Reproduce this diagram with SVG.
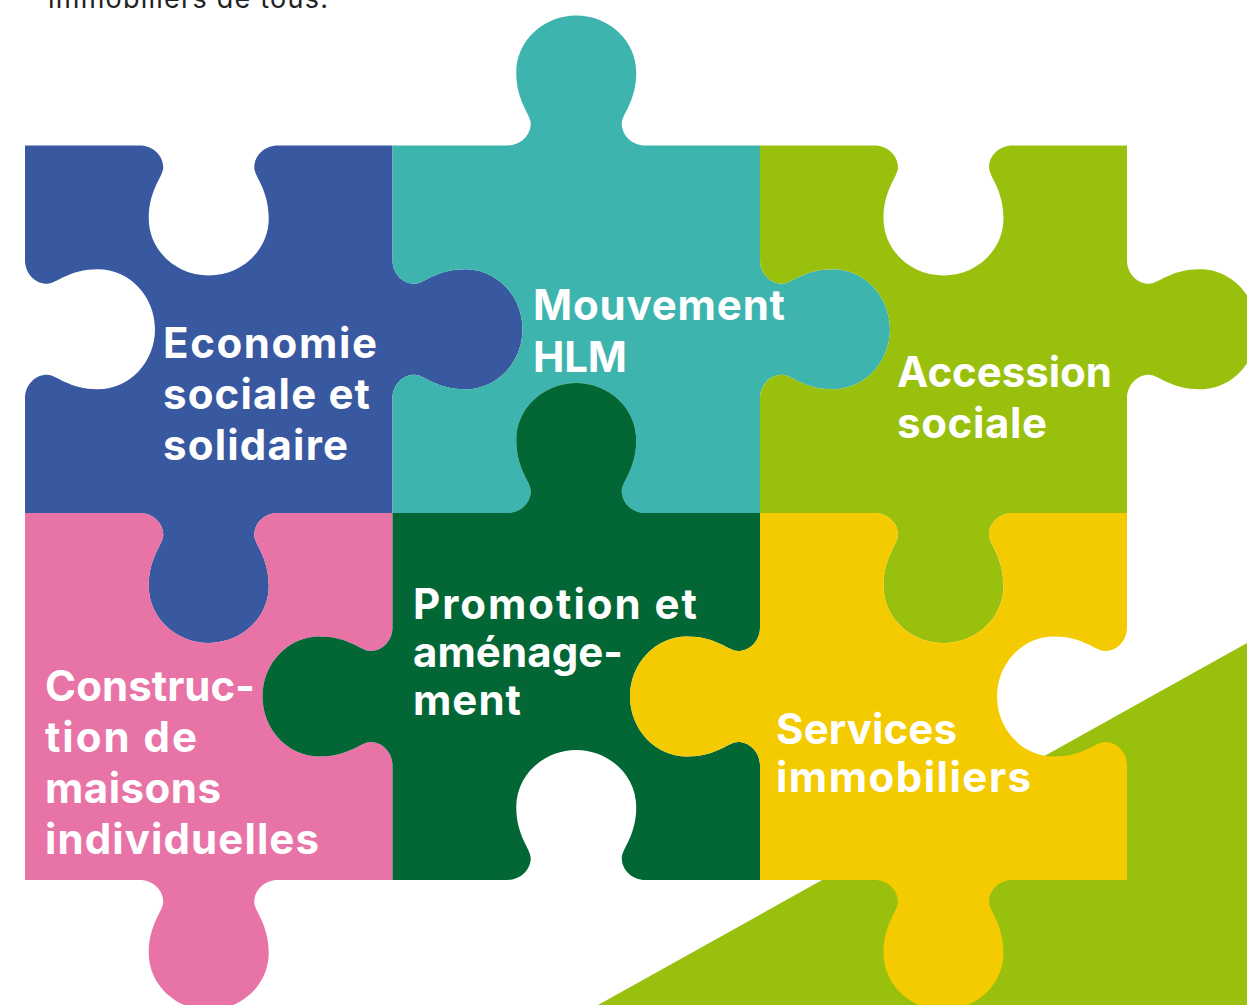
<svg xmlns="http://www.w3.org/2000/svg" width="1247" height="1005" viewBox="0 0 1247 1005">
<style>
text{font-family:"Inter","Liberation Sans",sans-serif}
.l{font-size:42px;font-weight:700;fill:#fff}
.t{font-size:27px;font-weight:400;fill:#222}
</style>
<rect width="1247" height="1005" fill="#fff"/>
<text class="t" x="48" y="8" textLength="280">immobiliers de tous.</text>
<polygon points="1247,643 598,1005 1247,1005" fill="#99c00d"/>
<g id="blue">
<path fill="#38589f" d="M25,145.5H139.75c13,0 23.5,10 23.5,22c0,9 -14.5,22 -14.5,51c0,31.5 27,57 60,57c33,0 60,-25.5 60,-57c0,-29 -14.5,-42 -14.5,-51c0,-12 10.5,-22 23.5,-22H392.5V260.25c0,13 10,23.5 22,23.5c9,0 22,-14.5 51,-14.5c31.5,0 57,27 57,60c0,33 -25.5,60 -57,60c-29,0 -42,-14.5 -51,-14.5c-12,0 -22,10.5 -22,23.5V513H277.75c-13,0 -23.5,10 -23.5,22c0,9 14.5,22 14.5,51c0,31.5 -27,57 -60,57c-33,0 -60,-25.5 -60,-57c0,-29 14.5,-42 14.5,-51c0,-12 -10.5,-22 -23.5,-22H25V398.25c0,-13 10,-23.5 22,-23.5c9,0 22,14.5 51,14.5c31.5,0 57,-27 57,-60c0,-33 -25.5,-60 -57,-60c-29,0 -42,14.5 -51,14.5c-12,0 -22,-10.5 -22,-23.5Z"/>
<text class="l" x="163" y="358" textLength="214">Economie</text>
<text class="l" x="163" y="409" textLength="207">sociale et</text>
<text class="l" x="163" y="460" textLength="185">solidaire</text>
</g>
<g id="teal">
<path fill="#3eb4ae" d="M392.5,145.5H507.25c13,0 23.5,-10 23.5,-22c0,-9 -14.5,-22 -14.5,-51c0,-31.5 27,-57 60,-57c33,0 60,25.5 60,57c0,29 -14.5,42 -14.5,51c0,12 10.5,22 23.5,22H760V260.25c0,13 10,23.5 22,23.5c9,0 22,-14.5 51,-14.5c31.5,0 57,27 57,60c0,33 -25.5,60 -57,60c-29,0 -42,-14.5 -51,-14.5c-12,0 -22,10.5 -22,23.5V513H645.25c-13,0 -23.5,-10 -23.5,-22c0,-9 14.5,-22 14.5,-51c0,-31.5 -27,-57 -60,-57c-33,0 -60,25.5 -60,57c0,29 14.5,42 14.5,51c0,12 -10.5,22 -23.5,22H392.5V398.25c0,-13 10,-23.5 22,-23.5c9,0 22,14.5 51,14.5c31.5,0 57,-27 57,-60c0,-33 -25.5,-60 -57,-60c-29,0 -42,14.5 -51,14.5c-12,0 -22,-10.5 -22,-23.5Z"/>
<text class="l" x="533" y="320" textLength="252">Mouvement</text>
<text class="l" x="533" y="372" textLength="94">HLM</text>
</g>
<g id="lime">
<path fill="#99c00d" d="M760,145.5H874.5c13,0 23.5,10 23.5,22c0,9 -14.5,22 -14.5,51c0,31.5 27,57 60,57c33,0 60,-25.5 60,-57c0,-29 -14.5,-42 -14.5,-51c0,-12 10.5,-22 23.5,-22H1127V260.25c0,13 10,23.5 22,23.5c9,0 22,-14.5 51,-14.5c31.5,0 57,27 57,60c0,33 -25.5,60 -57,60c-29,0 -42,-14.5 -51,-14.5c-12,0 -22,10.5 -22,23.5V513H1012.5c-13,0 -23.5,10 -23.5,22c0,9 14.5,22 14.5,51c0,31.5 -27,57 -60,57c-33,0 -60,-25.5 -60,-57c0,-29 14.5,-42 14.5,-51c0,-12 -10.5,-22 -23.5,-22H760V398.25c0,-13 10,-23.5 22,-23.5c9,0 22,14.5 51,14.5c31.5,0 57,-27 57,-60c0,-33 -25.5,-60 -57,-60c-29,0 -42,14.5 -51,14.5c-12,0 -22,-10.5 -22,-23.5Z"/>
<text class="l" x="897" y="387" textLength="215">Accession</text>
<text class="l" x="897" y="438" textLength="150">sociale</text>
</g>
<g id="pink">
<path fill="#e874a7" d="M25,513H139.75c13,0 23.5,10 23.5,22c0,9 -14.5,22 -14.5,51c0,31.5 27,57 60,57c33,0 60,-25.5 60,-57c0,-29 -14.5,-42 -14.5,-51c0,-12 10.5,-22 23.5,-22H392.5V627.5c0,13 -10,23.5 -22,23.5c-9,0 -22,-14.5 -51,-14.5c-31.5,0 -57,27 -57,60c0,33 25.5,60 57,60c29,0 42,-14.5 51,-14.5c12,0 22,10.5 22,23.5V880H277.75c-13,0 -23.5,10 -23.5,22c0,9 14.5,22 14.5,51c0,31.5 -27,57 -60,57c-33,0 -60,-25.5 -60,-57c0,-29 14.5,-42 14.5,-51c0,-12 -10.5,-22 -23.5,-22H25Z"/>
<text class="l" x="45" y="701" textLength="210">Construc-</text>
<text class="l" x="45" y="752" textLength="152">tion de</text>
<text class="l" x="45" y="803" textLength="176">maisons</text>
<text class="l" x="45" y="854" textLength="274">individuelles</text>
</g>
<g id="darkgreen">
<path fill="#026735" d="M392.5,513H507.25c13,0 23.5,-10 23.5,-22c0,-9 -14.5,-22 -14.5,-51c0,-31.5 27,-57 60,-57c33,0 60,25.5 60,57c0,29 -14.5,42 -14.5,51c0,12 10.5,22 23.5,22H760V627.5c0,13 -10,23.5 -22,23.5c-9,0 -22,-14.5 -51,-14.5c-31.5,0 -57,27 -57,60c0,33 25.5,60 57,60c29,0 42,-14.5 51,-14.5c12,0 22,10.5 22,23.5V880H645.25c-13,0 -23.5,-10 -23.5,-22c0,-9 14.5,-22 14.5,-51c0,-31.5 -27,-57 -60,-57c-33,0 -60,25.5 -60,57c0,29 14.5,42 14.5,51c0,12 -10.5,22 -23.5,22H392.5V765.5c0,-13 -10,-23.5 -22,-23.5c-9,0 -22,14.5 -51,14.5c-31.5,0 -57,-27 -57,-60c0,-33 25.5,-60 57,-60c29,0 42,14.5 51,14.5c12,0 22,-10.5 22,-23.5Z"/>
<text class="l" x="413" y="619" textLength="284">Promotion et</text>
<text class="l" x="413" y="667" textLength="210">aménage-</text>
<text class="l" x="413" y="715" textLength="108">ment</text>
</g>
<g id="yellow">
<path fill="#f4ca00" d="M760,513H874.5c13,0 23.5,10 23.5,22c0,9 -14.5,22 -14.5,51c0,31.5 27,57 60,57c33,0 60,-25.5 60,-57c0,-29 -14.5,-42 -14.5,-51c0,-12 10.5,-22 23.5,-22H1127V627.5c0,13 -10,23.5 -22,23.5c-9,0 -22,-14.5 -51,-14.5c-31.5,0 -57,27 -57,60c0,33 25.5,60 57,60c29,0 42,-14.5 51,-14.5c12,0 22,10.5 22,23.5V880H1012.5c-13,0 -23.5,10 -23.5,22c0,9 14.5,22 14.5,51c0,31.5 -27,57 -60,57c-33,0 -60,-25.5 -60,-57c0,-29 14.5,-42 14.5,-51c0,-12 -10.5,-22 -23.5,-22H760V765.5c0,-13 -10,-23.5 -22,-23.5c-9,0 -22,14.5 -51,14.5c-31.5,0 -57,-27 -57,-60c0,-33 25.5,-60 57,-60c29,0 42,14.5 51,14.5c12,0 22,-10.5 22,-23.5Z"/>
<text class="l" x="776" y="744" textLength="181">Services</text>
<text class="l" x="776" y="792" textLength="255">immobiliers</text>
</g>
</svg>
